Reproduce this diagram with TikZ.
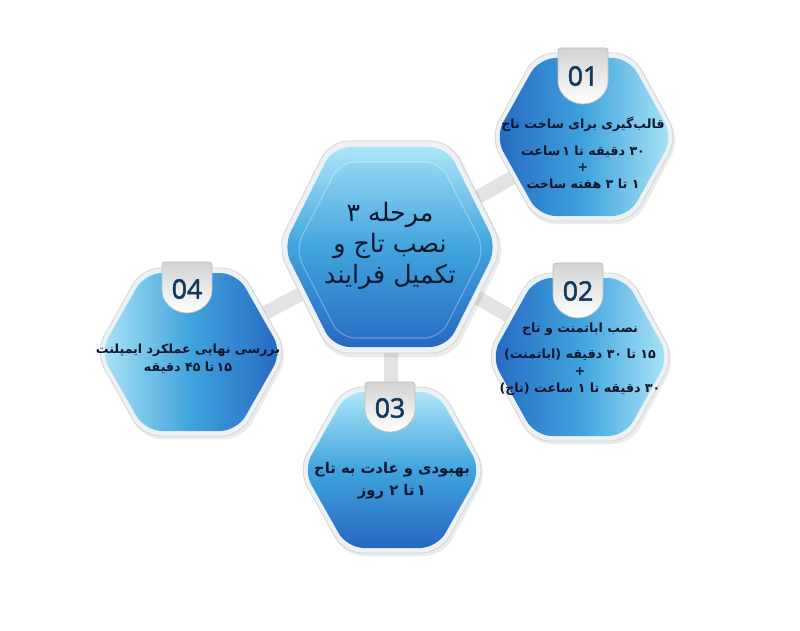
\documentclass[tikz,border=0pt]{standalone}
\usepackage{fontspec}
\usepackage{tikz}
\newfontfamily\farsi[Script=Arabic]{DejaVu Sans}
\newfontfamily\numfont[FakeBold=2]{Open Sans}
\TeXXeTstate=1
\definecolor{hexlight}{RGB}{172,229,248}
\definecolor{hexmid}{RGB}{64,163,221}
\definecolor{hexdark}{RGB}{38,104,194}
\definecolor{rimgray}{RGB}{238,241,244}
\definecolor{inkblue}{RGB}{12,22,45}
\definecolor{numblue}{RGB}{17,57,94}
\newcommand{\hexpath}[5]{(#1,#2-#4) -- (#1+#5,#2-#4) -- (#1+#3,#2) -- (#1+#5,#2+#4) -- (#1-#5,#2+#4) -- (#1-#3,#2) -- (#1-#5,#2-#4) -- cycle}
\newcommand{\tabpath}[3]{(#1,#2) -- (#1+25,#2) -- (#1+25,#3-25) arc[start angle=0,end angle=180,radius=25] -- (#1-25,#2) -- cycle}
\tikzset{
  rim/.style={fill=rimgray, draw=gray!35, line width=0.5pt, rounded corners=13pt},
  shadowhex/.style={fill=black, opacity=0.08, rounded corners=13pt},
  bar/.style={line width=10pt, draw=gray!22},
  tabbox/.style={top color=gray!35, bottom color=white, draw=gray!50, line width=0.5pt, rounded corners=2pt},
  num/.style={font=\numfont\fontsize{19}{19}\selectfont, text=numblue},
  txt/.style={font=\farsi\bfseries\fontsize{9}{11.8}\selectfont, text=inkblue, align=center},
  bigtxt/.style={font=\farsi\fontsize{18}{22}\selectfont, text=inkblue, align=center},
}

\begin{document}
\begin{tikzpicture}[x=0.025cm, y=-0.025cm]
\useasboundingbox[fill=white] (0,0) rectangle (800,630);
% centres
\coordinate (stage) at (390,247);
\coordinate (s1) at (584,137);
\coordinate (s2) at (580,357);
\coordinate (s3) at (392,470);
\coordinate (s4) at (191,352);
% bars
\draw[bar] (stage) -- (s1);
\draw[bar] (stage) -- (s2);
\draw[bar] (stage) -- (s3);
\draw[bar] (stage) -- (s4);
% central hexagon
\fill[shadowhex] \hexpath{392}{250}{114}{107}{61};
\draw[rim] \hexpath{390}{247}{113}{106}{60};
\shade[rounded corners=12pt, top color=hexlight, bottom color=hexdark, middle color=hexmid] \hexpath{390}{247}{107}{100}{57};
\shadedraw[rounded corners=11pt, top color=hexlight!75!hexmid, bottom color=hexdark!85!hexmid, middle color=hexmid, draw=white, draw opacity=0.3, line width=0.8pt] \hexpath{390}{250}{95}{88}{50};
% 01
\fill[shadowhex] \hexpath{586}{140}{94}{84}{49};
\draw[rim] \hexpath{584}{137}{94}{84}{48};
\shade[rounded corners=12pt, left color=hexdark, right color=hexlight, middle color=hexmid] \hexpath{584}{137}{89}{79}{45};
% 02
\fill[shadowhex] \hexpath{582}{360}{94}{84}{49};
\draw[rim] \hexpath{580}{357}{94}{84}{48};
\shade[rounded corners=12pt, left color=hexdark, right color=hexlight, middle color=hexmid] \hexpath{580}{357}{89}{79}{45};
% 03
\fill[shadowhex] \hexpath{394}{473}{94}{83}{49};
\draw[rim] \hexpath{392}{470}{94}{83}{48};
\shade[rounded corners=12pt, top color=hexlight, bottom color=hexdark, middle color=hexmid] \hexpath{392}{470}{89}{78}{45};
% 04
\fill[shadowhex] \hexpath{193}{355}{96}{84}{50};
\draw[rim] \hexpath{191}{352}{96}{84}{49};
\shade[rounded corners=12pt, left color=hexlight, right color=hexdark, middle color=hexmid] \hexpath{191}{352}{91}{79}{46};
% tabs
\shadedraw[tabbox] \tabpath{583}{48}{104};
\shadedraw[tabbox] \tabpath{578}{263}{318};
\shadedraw[tabbox] \tabpath{390}{382}{432};
\shadedraw[tabbox] \tabpath{187}{262}{313};
\node[num] (n1) at (583,76) {01};
\node[num] (n2) at (578,291) {02};
\node[num] (n3) at (390,408) {03};
\node[num] (n4) at (187,289) {04};
% texts
\node[bigtxt] (t0) at (390,246) {\beginR مرحله ۳\endR\\\beginR نصب تاج و\endR\\\beginR تکمیل فرایند\endR};
\node[txt] (t1) at (583,153) {\beginR قالب‌گیری برای ساخت تاج\endR\\[7pt]\beginR ۳۰ دقیقه تا ۱\,ساعت\endR\\+\\\beginR ۱ تا ۳ هفته ساخت\endR};
\node[txt] (t2) at (580,359) {\beginR نصب اباتمنت و تاج\endR\\[7pt]\beginR ۱۵ تا ۳۰ دقیقه (اباتمنت)\endR\\+\\\beginR ۳۰ دقیقه تا ۱ ساعت (تاج)\endR};
\node[txt, font=\farsi\bfseries\fontsize{10.5}{15.5}\selectfont] (t3) at (392,481) {\beginR بهبودی و عادت به تاج\endR\\\beginR ۱\,تا ۲ روز\endR};
\node[txt, font=\farsi\bfseries\fontsize{9}{12.8}\selectfont] (t4) at (188,359) {\beginR بررسی نهایی عملکرد ایمپلنت\endR\\\beginR ۱۵\,تا ۴۵ دقیقه\endR};
\end{tikzpicture}
\end{document}
